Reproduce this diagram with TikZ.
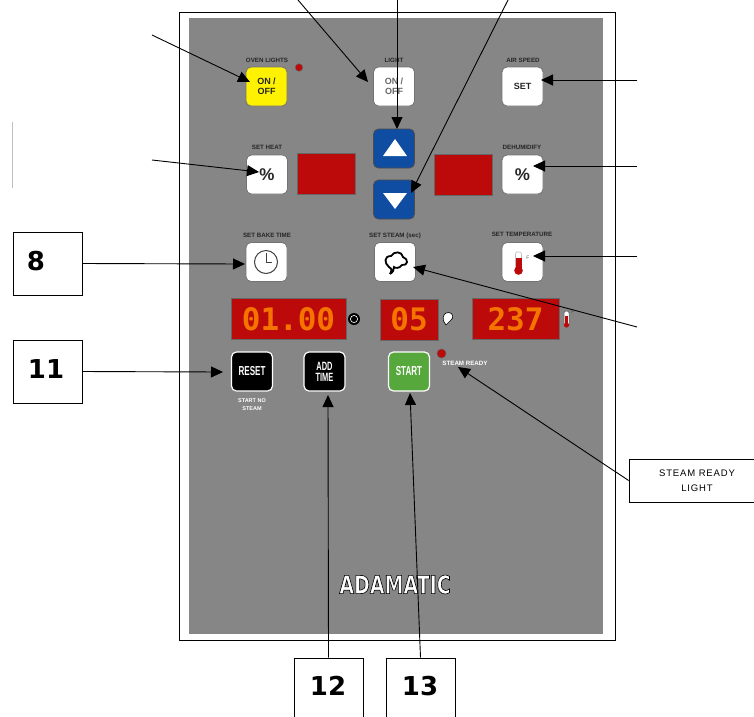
\documentclass[tikz,border=0pt]{standalone}
\usepackage{fontspec}
\setmainfont{Liberation Sans}
\newfontfamily\condf[FakeStretch=0.62]{Liberation Sans}
\newfontfamily\logof[FakeStretch=0.76]{DejaVu Sans}
\newfontfamily\spacedf[LetterSpace=9]{Liberation Sans}
\newfontfamily\numf{DejaVu Sans}
\newfontfamily\lcdf{DejaVu Sans Mono}
\usetikzlibrary{arrows.meta}
\definecolor{panelgray}{HTML}{868686}
\definecolor{btnblue}{HTML}{0F4DA3}
\definecolor{dispred}{HTML}{BC0A0A}
\definecolor{digit}{HTML}{F57400}
\definecolor{btnyellow}{HTML}{FFF200}
\definecolor{btngreen}{HTML}{56A83C}
\tikzset{
  x=1pt,y=-1pt,
  btn/.style={rounded corners=5pt,draw=black!55,line width=.8pt,minimum width=41pt,minimum height=39pt,inner sep=0pt,align=center,font=\bfseries\fontsize{9}{10.2}\selectfont,text=black!85},
  pct/.style={btn,fill=white,font=\bfseries\fontsize{17}{18}\selectfont},
  dark/.style={btn,fill=black,draw=white,line width=1.2pt,text=white,font=\condf\bfseries\fontsize{13}{11}\selectfont},
  panelred/.style={fill=dispred,draw=black!60,line width=.7pt,minimum height=41pt,inner sep=0pt},
  lcd/.style={panelred,text=digit,font=\lcdf\bfseries\fontsize{31}{32}\selectfont},
  lbl/.style={font=\bfseries\fontsize{6.2}{8}\selectfont,text=black!85,inner sep=0pt,align=center},
  numbox/.style={draw=black,line width=.8pt,fill=white,inner sep=0pt},
  numtext/.style={font=\numf\bfseries\fontsize{26}{26}\selectfont,inner sep=0pt},
  pointer/.style={draw=black,line width=.9pt,-{Triangle[length=12pt,width=11pt]}}
}
\begin{document}
\begin{tikzpicture}
\useasboundingbox (0,0) rectangle (754,716);
\fill[white] (0,0) rectangle (754,716);
\draw[black,line width=1pt] (179,12) rectangle (615,640);
\fill[panelgray] (189,18) rectangle (603,634);
\draw[black!25,line width=.6pt] (12,122) -- (12,188);
% buttons
\node[btn,fill=btnyellow] (power) at (266.5,86.5) {ON /\\OFF};
\node[btn,fill=white,text=black!60] (light) at (394,86.5) {ON /\\OFF};
\node[btn,fill=white] (setb) at (522.5,86.5) {SET};
\node[btn,fill=btnblue,draw=black!70] (up) at (394,148.5) {};
\node[btn,fill=btnblue,draw=black!70] (down) at (394,199.5) {};
\fill[white] (395,139) -- (407,156) -- (383,156) -- cycle;
\fill[white] (383,193) -- (407,193) -- (395,209) -- cycle;
\node[pct] (pctl) at (267,174.5) {\%};
\node[pct] (pctr) at (522.5,174.5) {\%};
\node[panelred,minimum width=58pt] (redl) at (326,174) {};
\node[panelred,minimum width=58pt] (redr) at (463,174.5) {};
\node[btn,fill=white] (clock) at (266.5,262) {};
\draw[black!75,line width=1pt] (266,262) circle (11.5);
\draw[black!75,line width=1pt] (266,253) -- (266,262) -- (272,262);
\node[btn,fill=white] (steam) at (395,262) {};
\draw[black,line width=1.8pt,fill=white] (390,274) .. controls (392,270) and (392,269) .. (389,267)
  .. controls (384,263) and (384,256) .. (391,256)
  .. controls (394,251) and (402,251) .. (403,257)
  .. controls (409,259) and (408,266) .. (402,265)
  .. controls (399,269) and (395,268) .. (394,267)
  .. controls (394,270) and (393,272) .. (390,274);
\node[btn,fill=white] (thermo) at (522.5,262) {};
\draw[black!25,fill=white,line width=.6pt,rounded corners=2pt] (515.5,252) rectangle (521.5,268);
\fill[dispred] (515.5,258) rectangle (521.5,270);
\fill[dispred] (518.5,270.5) circle (4.3);
\node[font=\fontsize{5}{5}\selectfont,text=black!60,inner sep=0pt] (degf) at (528,258) {F};
% displays
\node[lcd,minimum width=115pt] (dtime) at (288.5,319) {01.00};
\node[lcd,minimum width=58pt] (dsteam) at (409,319.5) {05};
\node[lcd,minimum width=87pt] (dtemp) at (515.5,319) {237};
% small display icons
\fill[black] (354,319) circle (6);
\draw[white,line width=.6pt] (354,319) circle (3.6);
\fill[white,draw=black,line width=.6pt] (443.5,321) .. controls (442,316) and (445,312) .. (449,312.5)
  .. controls (453,313) and (454,318) .. (451,320) .. controls (449,321) and (448,324) .. (446,325) -- cycle;
\draw[black!70,fill=white,line width=.5pt,rounded corners=1.5pt] (564,311) rectangle (569,326);
\fill[dispred] (565,316) rectangle (568,325);
\fill[dispred] (566.5,325) circle (2.6);
\node[font=\fontsize{5}{5}\selectfont,text=black!70,inner sep=0pt] (degd) at (573,312) {F};
% bottom buttons
\node[dark] (reset) at (252,371.5) {RESET};
\node[dark,font=\condf\bfseries\fontsize{12}{11}\selectfont] (addt) at (324.5,371.5) {ADD\\TIME};
\node[dark,fill=btngreen] (start) at (409,371.5) {START};
\fill[dispred,draw=black!60,line width=.5pt] (441.5,353.5) circle (4.6);
\fill[dispred,draw=black!60,line width=.5pt] (299,67.5) circle (3.8);
% tiny labels
\node[lbl] (l1) at (267,60.5) {OVEN LIGHTS};
\node[lbl] (l2) at (394,60) {LIGHT};
\node[lbl] (l3) at (523,60) {AIR SPEED};
\node[lbl] (l4) at (267,147) {SET HEAT};
\node[lbl] (l5) at (522,147) {DEHUMIDIFY};
\node[lbl] (l6) at (267,235.5) {SET BAKE TIME};
\node[lbl] (l7) at (395,235.5) {SET STEAM (sec)};
\node[lbl] (l8) at (522,234) {SET TEMPERATURE};
\node[lbl,text=white] (l9) at (465,363) {STEAM READY};
\node[lbl,text=white,font=\bfseries\fontsize{5.5}{8}\selectfont] (l10) at (252,405) {START NO\\STEAM};
% logo
\node[font=\logof\bfseries\fontsize{25}{25}\selectfont,text=white,inner sep=0pt] (logo) at (395,584.5) {\special{pdf:code 2 Tr 0 0 0 RG 0.6 w}ADAMATIC\special{pdf:code 0 Tr}};
% number boxes
\node[numbox,minimum width=69pt,minimum height=63pt] (n8) at (47.5,263.5) {};
\node[numtext] (t8) at (36,261) {8};
\node[numbox,minimum width=69pt,minimum height=63pt] (n11) at (47.5,371.5) {};
\node[numtext] (t11) at (46,369) {11};
\node[numbox,minimum width=69pt,minimum height=64pt] (n12) at (328.5,690) {};
\node[numtext] (t12) at (328,686) {12};
\node[numbox,minimum width=69pt,minimum height=64pt] (n13) at (420.5,690) {};
\node[numtext] (t13) at (420,686) {13};
\node[draw=black,line width=.8pt,fill=white,minimum width=136pt,minimum height=43pt,inner sep=0pt,align=center,font=\spacedf\fontsize{9.5}{14.5}\selectfont] (ready) at (697,480.5) {STEAM READY\\LIGHT};
% free ends
\coordinate (a1) at (152,35);
\coordinate (a2) at (298,0);
\coordinate (a3) at (397,0);
\coordinate (a4) at (508,0);
\coordinate (a5) at (637,80);
\coordinate (a6) at (637,166);
\coordinate (a7) at (152,160);
\coordinate (a8) at (637,256);
\coordinate (a9) at (637,327);
\coordinate (tip1) at (250,82);
\coordinate (tip2) at (368,82);
\coordinate (tip3) at (397,129);
\coordinate (tip4) at (411,193);
\coordinate (tip5) at (541,80);
\coordinate (tip6) at (533,166);
\coordinate (tip7) at (259,172);
\coordinate (tip8) at (533,256);
\coordinate (tip9) at (413,267);
\coordinate (tip10) at (245,264);
\coordinate (tip11) at (223,372);
\coordinate (tip12) at (328,395);
\coordinate (tip13) at (410,393);
\coordinate (tip14) at (458,367);
\draw[pointer] (a1) -- (tip1);
\draw[pointer] (a2) -- (tip2);
\draw[pointer] (a3) -- (tip3);
\draw[pointer] (a4) -- (tip4);
\draw[pointer] (a5) -- (tip5);
\draw[pointer] (a6) -- (tip6);
\draw[pointer] (a7) -- (tip7);
\draw[pointer] (a8) -- (tip8);
\draw[pointer] (a9) -- (tip9);
\draw[pointer] (n8.east) -- (tip10);
\draw[pointer] (n11.east) -- (tip11);
\draw[pointer] (n12.north) -- (tip12);
\draw[pointer] (n13.north) -- (tip13);
\draw[pointer] (ready.west) -- (tip14);
\end{tikzpicture}
\end{document}
